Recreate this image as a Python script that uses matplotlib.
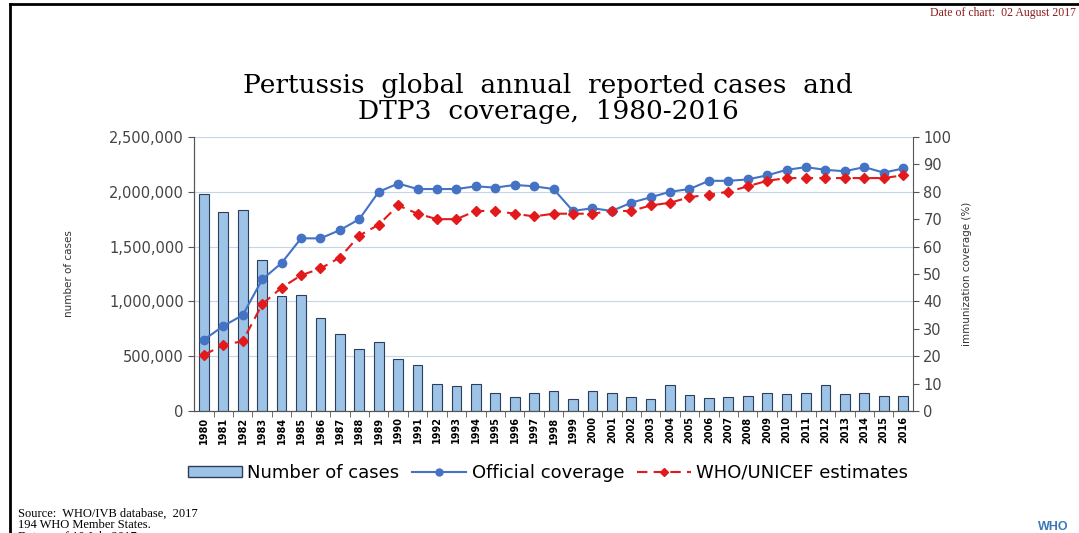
import matplotlib.pyplot as plt
from matplotlib.lines import Line2D
from matplotlib.patches import Patch
from matplotlib.ticker import FuncFormatter, MultipleLocator

years = list(range(1980, 2017))
cases = [1982000, 1816000, 1834000, 1378000, 1049000, 1055000, 845000, 705000,
         563000, 630000, 472000, 423000, 246000, 228000, 250000, 160000, 130000,
         160000, 180000, 107000, 180000, 167000, 125000, 107000, 237000, 146000,
         119000, 130000, 140000, 160000, 152000, 167000, 237000, 152000, 167000,
         140000, 137000]
official = [26, 31, 35, 48, 54, 63, 63, 66, 70, 80, 83, 81, 81, 81, 82, 81.5,
            82.5, 82, 81, 73, 74, 73, 76, 78, 80, 81, 84, 84, 84.5, 86, 88,
            89, 88, 87.5, 89, 87, 88.5]
who_unicef = [20.5, 24, 25.5, 39, 45, 49.5, 52, 56, 64, 68, 75, 72, 70, 70, 73,
              73, 72, 71, 72, 72, 72, 73, 73, 75, 76, 78, 79, 80, 82, 84, 85,
              85, 85, 85, 85, 85, 86]

fig = plt.figure(figsize=(10.79, 5.33), dpi=100)
ax = fig.add_axes([0.180, 0.229, 0.666, 0.514])
ax2 = ax.twinx()

ax.bar(years, cases, width=0.5, color='#9dc3e6', edgecolor='#2b3f5c', linewidth=0.8, zorder=2)
ax2.plot(years, official, color='#4472c4', marker='o', markersize=6, lw=1.5, zorder=3)
ax2.plot(years, who_unicef, color='#e31a1c', marker='D', markersize=5, lw=1.5,
         ls=(0, (5, 3)), zorder=3)

ax.set_xlim(1979.5, 2016.5)
ax.set_ylim(0, 2500000)
ax2.set_ylim(0, 100)
ax.yaxis.set_major_locator(MultipleLocator(500000))
ax.yaxis.set_major_formatter(FuncFormatter(lambda v, p: f'{int(v):,}'))
ax2.yaxis.set_major_locator(MultipleLocator(10))
ax.grid(axis='y', color='#c5d5e8', lw=0.8, zorder=0)
ax.set_axisbelow(True)

ax.set_xticks(years)
ax.set_xticklabels([str(y) for y in years], rotation=90, fontsize=7, fontweight='bold')
ax.set_xticks([y + 0.5 for y in years[:-1]], minor=True)
ax.tick_params(axis='x', which='major', length=0, pad=4)
ax.tick_params(axis='x', which='minor', length=4, color='#555555')
ax.tick_params(axis='y', labelsize=10.5, labelcolor='#444444', length=4, color='#555555')
ax2.tick_params(axis='y', labelsize=10.5, labelcolor='#444444', length=4, color='#555555')

for a in (ax, ax2):
    a.spines['top'].set_visible(False)
    for s in ('left', 'right', 'bottom'):
        a.spines[s].set_color('#555555')
ax.spines['right'].set_visible(False)

ax.set_ylabel('number of cases', fontsize=7.5, color='#333333', labelpad=25,
              family='Liberation Sans Narrow')
ax2.set_ylabel('immunization coverage (%)', fontsize=7.5, color='#333333', labelpad=8,
               family='Liberation Sans Narrow')

fig.text(0.508, 0.815, 'Pertussis  global  annual  reported cases  and\nDTP3  coverage,  1980-2016',
         ha='center', va='center', fontsize=19, family='DejaVu Serif', linespacing=1.05)
fig.text(0.997, 0.975, 'Date of chart:  02 August 2017', ha='right', va='center',
         fontsize=8.5, family='Liberation Serif', color='#8b1a1a')

handles = [Patch(facecolor='#9dc3e6', edgecolor='#2b3f5c'),
           Line2D([], [], color='#4472c4', marker='o', markersize=5, lw=1.5),
           Line2D([], [], color='#e31a1c', marker='D', markersize=4, lw=1.5, ls=(0, (5, 3)))]
fig.legend(handles, ['Number of cases', 'Official coverage', 'WHO/UNICEF estimates'],
           loc='center', bbox_to_anchor=(0.508, 0.113), ncol=3, frameon=False,
           prop={'family': 'DejaVu Sans', 'size': 13}, handlelength=3.0,
           handleheight=0.6, columnspacing=0.7, handletextpad=0.3)

fig.text(0.017, 0.048, 'Source:  WHO/IVB database,  2017\n194 WHO Member States.\nData as of 10 July 2017',
         ha='left', va='top', fontsize=9, family='Liberation Serif', linespacing=0.95)
fig.text(0.962, 0.012, 'WHO', ha='left', va='center', fontsize=9, fontweight='bold',
         color='#3a78b8', family='Liberation Sans')

fig.add_artist(Line2D([0.009, 1.0], [0.992, 0.992], color='black', lw=2))
fig.add_artist(Line2D([0.009, 0.009], [0.0, 0.992], color='black', lw=2))

fig.savefig('out.png', dpi=100)
